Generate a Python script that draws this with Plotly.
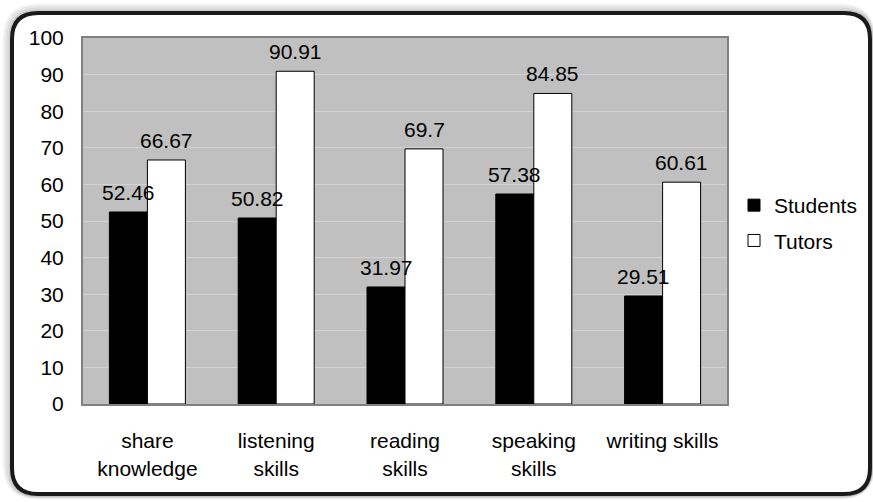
# students vs tutors: grouped bar chart in a rounded frame

import plotly.graph_objects as go

categories = ["share<br>knowledge", "listening<br>skills", "reading<br>skills",
              "speaking<br>skills", "writing skills"]
students = [52.46, 50.82, 31.97, 57.38, 29.51]
tutors = [66.67, 90.91, 69.7, 84.85, 60.61]
y_ticks = [0, 10, 20, 30, 40, 50, 60, 70, 80, 90, 100]

W, H = 873, 502
L, R, T, B = 83, 146, 38, 98
font = "Arial, Liberation Sans, sans-serif"


def px(x):
    # pixel -> paper x
    return (x - L) / (W - L - R)


def py(y):
    # pixel -> paper y
    return (H - B - y) / (H - T - B)


def rounded(x0, y0, x1, y1, r):
    return (f"M {px(x0 + r)},{py(y0)} L {px(x1 - r)},{py(y0)} "
            f"Q {px(x1)},{py(y0)} {px(x1)},{py(y0 + r)} "
            f"L {px(x1)},{py(y1 - r)} Q {px(x1)},{py(y1)} {px(x1 - r)},{py(y1)} "
            f"L {px(x0 + r)},{py(y1)} Q {px(x0)},{py(y1)} {px(x0)},{py(y1 - r)} "
            f"L {px(x0)},{py(y0 + r)} Q {px(x0)},{py(y0)} {px(x0 + r)},{py(y0)} Z")


fig = go.Figure()
fig.add_trace(go.Bar(x=categories, y=students, name="Students", legendgroup="s",
                     marker=dict(color="black", line=dict(color="black", width=1))))
fig.add_trace(go.Bar(x=categories, y=tutors, name="Tutors", legendgroup="t",
                     marker=dict(color="white", line=dict(color="black", width=1))))

# value labels above the bars
for i, c in enumerate(categories):
    for v, shift in ((students[i], -19), (tutors[i], 19)):
        fig.add_annotation(x=c, y=v, text=f"{v:g}", showarrow=False,
                           xshift=shift, yshift=6, yanchor="bottom",
                           font=dict(size=21, color="black", family=font))

# frame with soft shadow
shapes = []
for k, col in ((8, "rgba(0,0,0,0.04)"), (6, "rgba(0,0,0,0.07)"),
               (4, "rgba(0,0,0,0.10)"), (2, "rgba(0,0,0,0.15)")):
    shapes.append(dict(type="path", xref="paper", yref="paper", layer="below",
                       path=rounded(12 - k, 13 - k, 870 + k / 2, 494 + k / 2, 26 + k),
                       line=dict(color=col, width=3), fillcolor="rgba(0,0,0,0)"))
shapes.append(dict(type="path", xref="paper", yref="paper", layer="below",
                   path=rounded(12, 13, 870, 494, 26),
                   line=dict(color="#1a1a1a", width=4), fillcolor="rgba(0,0,0,0)"))

fig.update_layout(
    width=W, height=H,
    margin=dict(l=L, r=R, t=T, b=B, autoexpand=False),
    paper_bgcolor="white",
    plot_bgcolor="#c0c0c0",
    barmode="group",
    bargap=0.41,
    bargroupgap=0,
    font=dict(family=font, size=21, color="black"),
    shapes=shapes,
    showlegend=True,
    legend=dict(x=px(734), y=py(185), xanchor="left", yanchor="top",
                bgcolor="rgba(0,0,0,0)", font=dict(size=21),
                itemwidth=30, tracegroupgap=5),
    xaxis=dict(showgrid=False, ticks="outside", ticklen=17, tickcolor="rgba(0,0,0,0)",
               showline=True, linecolor="#808080", linewidth=2, mirror=True,
               tickfont=dict(size=21), automargin=False),
    yaxis=dict(range=[0, 100], tickvals=y_ticks, showgrid=True, gridcolor="#d2d2d2",
               gridwidth=1, ticks="outside", ticklen=13, tickcolor="rgba(0,0,0,0)",
               showline=True, linecolor="#808080", linewidth=2, mirror=True,
               zeroline=False, tickfont=dict(size=21), automargin=False),
)

# page body has a default margin; drop it so the figure sits at the window's corner
fig.write_html("out.html", config={"displayModeBar": False},
               post_script="document.body.style.margin='0';")
